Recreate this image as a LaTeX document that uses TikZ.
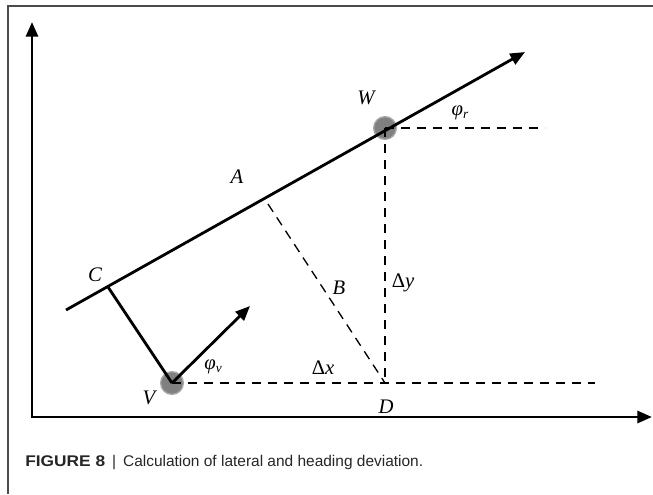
\documentclass[tikz,border=0pt]{standalone}
\usepackage{fontspec}
\setmainfont{Liberation Serif}
\newfontfamily\capfont{Liberation Sans}
\usetikzlibrary{arrows.meta}
\newcommand{\subr}[1]{\raisebox{-0.3ex}{\fontsize{10}{10}\selectfont #1}}
\begin{document}
\begin{tikzpicture}[x=0.75pt,y=-0.75pt,
  axis/.style={line width=2.2pt,-{Triangle[length=11pt,width=9pt]}},
  solidline/.style={line width=2.1pt},
  dash line/.style={line width=1pt,dash pattern=on 7pt off 5pt},
  dot/.style={circle,fill=black!50,draw=black!35,line width=1pt,minimum size=17pt,inner sep=0pt},
  lbl/.style={font=\itshape\fontsize{15.5}{15.5}\selectfont,inner sep=1pt},
  frame/.style={draw=black!70,line width=1.5pt}]
\useasboundingbox (0,0) rectangle (653,494);
\draw[frame] (8,494) -- (8,6) -- (653,6);
% points
\coordinate (O) at (32,417);
\coordinate (Ytip) at (32,22);
\coordinate (Xtip) at (652,417);
\coordinate (Lstart) at (66,310);
\coordinate (Ltip) at (525,52);
\coordinate (Wp) at (385,128);
\coordinate (Vp) at (172,383);
\coordinate (Dp) at (385,383);
\coordinate (Cp) at (108,287);
\coordinate (Ap) at (268,204);
\coordinate (VHead) at (250,306);
\coordinate (WEnd) at (545,128);
\coordinate (VEnd) at (595,383);
% dots
\node[dot] (W) at (Wp) {};
\node[dot] (V) at (Vp) {};
% dashed lines
\draw[dash line] (Wp) -- (WEnd);
\draw[dash line] (Wp) -- (Dp);
\draw[dash line] (Vp) -- (VEnd);
\draw[dash line] (Ap) -- (Dp);
% axes
\draw[axis] (O) -- (Ytip);
\draw[axis] ([xshift=-1.1pt]O) -- (Xtip);
% main line
\draw[solidline,-{Triangle[length=11pt,width=9pt]}] (Lstart) -- (Ltip);
\draw[solidline] (Cp) -- (Vp);
\draw[solidline,-{Triangle[length=11pt,width=9pt]}] (Vp) -- (VHead);
% labels
\node[lbl] (lW) at (366,98) {W};
\node[lbl] (lphr) at (460,113) {φ\subr{r}};
\node[lbl] (lA) at (237,177) {A};
\node[lbl] (lC) at (95,275) {C};
\node[lbl] (lB) at (339,288) {B};
\node[lbl] (ldy) at (403,283) {{\upshape Δ}y};
\node[lbl] (ldx) at (323,368) {{\upshape Δ}x};
\node[lbl] (lphv) at (213,367) {φ\subr{v}};
\node[lbl] (lV) at (149,398) {V};
\node[lbl] (lD) at (386,407) {D};
% caption
\node[anchor=west,font=\capfont\fontsize{11.6}{14}\selectfont,inner sep=0pt,text=black!85] (cap) at (25,463)
  {\scalebox{1.12}[1]{\textbf{FIGURE 8}}\hspace{0.45em}|\hspace{0.45em}Calculation of lateral and heading deviation.};
\end{tikzpicture}
\end{document}
